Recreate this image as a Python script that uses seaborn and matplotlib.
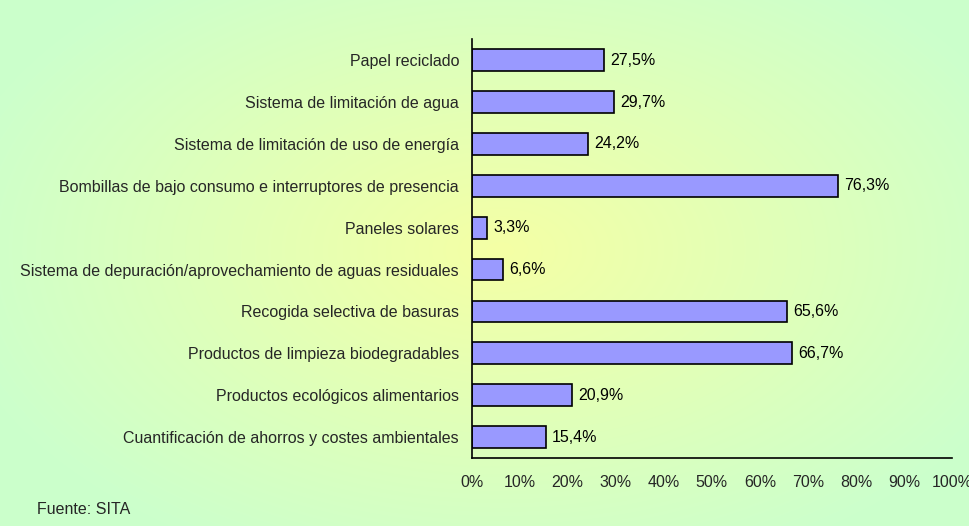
import numpy as np
import pandas as pd
import matplotlib
matplotlib.use('Agg')
import matplotlib.pyplot as plt
import seaborn as sns

# Data (top to bottom)
categories = [
    'Papel reciclado',
    'Sistema de limitación de agua',
    'Sistema de limitación de uso de energía',
    'Bombillas de bajo consumo e interruptores de presencia',
    'Paneles solares',
    'Sistema de depuración/aprovechamiento de aguas residuales',
    'Recogida selectiva de basuras',
    'Productos de limpieza biodegradables',
    'Productos ecológicos alimentarios',
    'Cuantificación de ahorros y costes ambientales',
]
values = [27.5, 29.7, 24.2, 76.3, 3.3, 6.6, 65.6, 66.7, 20.9, 15.4]
value_labels = ['27,5%', '29,7%', '24,2%', '76,3%', '3,3%', '6,6%', '65,6%', '66,7%', '20,9%', '15,4%']
xticks = [0, 10, 20, 30, 40, 50, 60, 70, 80, 90, 100]

df = pd.DataFrame({'categoria': categories, 'valor': values})

sns.set_style('white')
plt.rcParams['font.family'] = ['Liberation Sans', 'DejaVu Sans']
fs = 11.5

fig = plt.figure(figsize=(9.69, 5.26), dpi=100)

# Background gradient (green edges, yellow centre)
bg = fig.add_axes([0, 0, 1, 1], zorder=0)
yy, xx = np.mgrid[0:526, 0:969]
d = np.sqrt(((xx - 500) / 560.0) ** 2 + ((yy - 250) / 340.0) ** 2)
t = np.clip(d, 0, 1)[..., None]
centre = np.array([245, 255, 165]) / 255.0
edge = np.array([204, 255, 204]) / 255.0
img = centre * (1 - t) + edge * t
bg.imshow(img, aspect='auto', extent=[0, 1, 0, 1], origin='upper')
bg.axis('off')

ax = fig.add_axes([0.4866, 0.1293, 0.4959, 0.796], zorder=1)
ax.patch.set_alpha(0)
sns.barplot(data=df, x='valor', y='categoria', orient='h', color='#9999FF',
            edgecolor='black', linewidth=1.2, width=0.52, saturation=1, ax=ax)

for i, (v, lab) in enumerate(zip(values, value_labels)):
    ax.annotate(lab, (v, i), xytext=(4.5, 0), textcoords='offset points',
                va='center', ha='left', fontsize=fs, color='black')

ax.set_xlim(0, 100)
ax.set_ylim(len(categories) - 0.5, -0.5)
ax.set_xticks(xticks)
ax.set_xticklabels([f'{x}%' for x in xticks], fontsize=fs)
ax.set_yticks(range(len(categories)))
ax.tick_params(axis='y', length=0, labelsize=fs, pad=9)
ax.set_yticks(np.arange(-0.5, len(categories), 1), minor=True)
ax.tick_params(axis='y', which='minor', length=3, width=1, direction='out')
ax.tick_params(axis='x', length=3.2, width=1, direction='out', pad=9)
ax.set_xlabel('')
ax.set_ylabel('')
for s in ['top', 'right']:
    ax.spines[s].set_visible(False)
for s in ['left', 'bottom']:
    ax.spines[s].set_color('black')
    ax.spines[s].set_linewidth(1.2)

fig.text(37 / 969, 1 - 509 / 526, 'Fuente: SITA', fontsize=fs, va='center', ha='left')

fig.savefig('out.png', dpi=100)
